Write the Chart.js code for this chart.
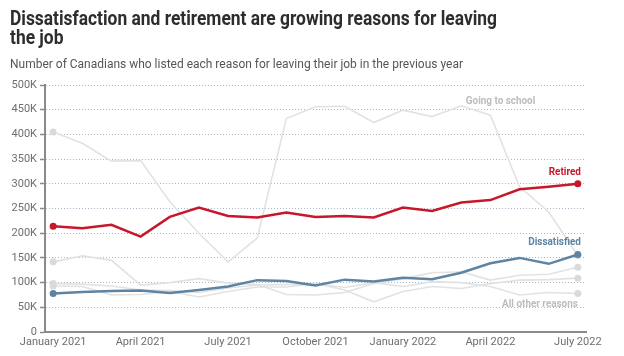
<!DOCTYPE html>
<html><head><meta charset="utf-8">
<script src="https://cdn.jsdelivr.net/npm/chart.js@4.4.1/dist/chart.umd.min.js"></script>
<style>
html,body{margin:0;padding:0;background:#fff;width:624px;height:356px;overflow:hidden;}
#wrap{position:relative;width:624px;height:356px;}
canvas{position:absolute;left:0;top:0;}
.t{position:absolute;left:10px;white-space:nowrap;transform-origin:0 0;font-family:Roboto,"Noto Sans",sans-serif;}
#t1,#t2{font-weight:bold;font-size:20px;line-height:20px;color:#2d2d2d;}
#t1{top:8px}#t2{top:27px}
#sub{font-size:12px;line-height:12px;top:58px;color:#555;}
</style></head>
<body><div id="wrap"><canvas id="c" width="624" height="356"></canvas>
<div class="t" id="t1">Dissatisfaction and retirement are growing reasons for leaving</div>
<div class="t" id="t2">the job</div>
<div class="t" id="sub">Number of Canadians who listed each reason for leaving their job in the previous year</div>
</div>
<script>
// ---- data (thousands of people) ----
const months = ['January 2021','February 2021','March 2021','April 2021','May 2021','June 2021','July 2021','August 2021','September 2021','October 2021','November 2021','December 2021','January 2022','February 2022','March 2022','April 2022','May 2022','June 2022','July 2022'];
const tickMonths = [0,3,6,9,12,15,18];
const yTicks = [0,50,100,150,200,250,300,350,400,450,500];
const retired      = [214,210,217,193,233,252,235,232,242,233,235,232,252,245,262,267,289,294,300];
const dissatisfied = [78,81,83,84,79,85,92,105,103,94,106,102,110,107,120,139,150,138,157];
const goingToSchool= [405,382,346,347,264,200,142,190,432,456,457,424,449,436,458,439,294,243,155];
const otherA       = [142,154,145,95,100,108,99,96,76,75,80,98,108,120,122,105,115,117,131];
const otherB       = [98,97,93,85,84,80,89,95,96,98,85,61,82,92,88,98,105,106,109];
const otherC       = [93,92,75,76,82,71,82,91,91,98,90,100,92,102,100,92,75,80,78];

const RED='#c8162a', BLUE='#5d84a3', GREY='#e2e2e2', GREYPT='#dadada', LGREY='#bdbdbd';
const FONT='Roboto, "Noto Sans", sans-serif';

function pts(arr){ return arr.map((v,i)=>({x:i,y:v*1000})); }
const last = months.length-1;
function endPts(r){ return ctx => (ctx.dataIndex===0||ctx.dataIndex===last)?r:0; }
function ds(label,arr,color,ptColor,w){
  return {label, data:pts(arr), borderColor:color, borderWidth:w, backgroundColor:ptColor,
    pointBackgroundColor:ptColor, pointBorderWidth:0, pointRadius:endPts(3.5), pointHoverRadius:0,
    tension:0, fill:false};
}

const labelPlugin = {
  id:'lbl',
  afterDatasetsDraw(chart){
    const {ctx, scales:{x,y}} = chart;
    const items = [
      {text:'Going to school', color:LGREY, align:'center', xv:15.35, px:0, py:y.getPixelForValue(goingToSchool[14]*1000)-4},
      {text:'Retired', color:RED, align:'right', xv:last, px:3, py:y.getPixelForValue(retired[last]*1000)-12},
      {text:'Dissatisfied', color:BLUE, align:'right', xv:last, px:3, py:y.getPixelForValue(dissatisfied[last]*1000)-12},
      {text:'All other reasons', color:LGREY, align:'right', xv:last, px:0, py:y.getPixelForValue(otherC[last]*1000)+11}
    ];
    ctx.save();
    ctx.font = 'bold 11px '+FONT;
    ctx.textBaseline='middle';
    items.forEach(it=>{
      const xp = x.getPixelForValue(it.xv)+it.px;
      const w = ctx.measureText(it.text).width;
      const s = 0.9;
      ctx.save();
      ctx.translate(xp, it.py);
      ctx.scale(s,1);
      ctx.fillStyle = it.color;
      ctx.textAlign = it.align;
      ctx.fillText(it.text, 0, 0);
      ctx.restore();
    });
    ctx.restore();
  }
};

function build(){
  const el = document.getElementById('c');
  new Chart(el, {
    type:'line',
    data:{datasets:[
      ds('Retired', retired, RED, RED, 2.5),
      ds('Dissatisfied', dissatisfied, BLUE, BLUE, 2.5),
      ds('Going to school', goingToSchool, GREY, GREYPT, 1.6),
      ds('Other A', otherA, GREY, GREYPT, 1.6),
      ds('Other B', otherB, GREY, GREYPT, 1.6),
      ds('Other C', otherC, GREY, GREYPT, 1.6)
    ]},
    options:{
      responsive:false, animation:false, devicePixelRatio:1,
      events:[],
      layout:{padding:{top:85,right:38,left:0,bottom:0}},
      plugins:{legend:{display:false}, tooltip:{enabled:false}, title:{display:false}},
      scales:{
        x:{type:'linear', min:-0.28, max:last+0.28,
          afterBuildTicks: s=>{ s.ticks = tickMonths.map(v=>({value:v})); },
          afterFit: s=>{ s.height = 24; },
          ticks:{callback:v=>months[v], font:{family:FONT,size:11}, color:'#6e6e6e', padding:4, maxRotation:0, autoSkip:false},
          grid:{display:false, drawTicks:false},
          border:{display:true, color:'#8a8a8a', width:2}
        },
        y:{min:0, max:500000,
          afterBuildTicks: s=>{ s.ticks = yTicks.map(v=>({value:v*1000})); },
          afterFit: s=>{ s.width = 45; },
          ticks:{callback:v=> v===0?'0':(v/1000)+'K', font:{family:FONT,size:11}, color:'#6e6e6e', padding:3},
          grid:{color:c=> (c.tick && c.tick.value===0)?'rgba(0,0,0,0)':'#a8b8c6', lineWidth:1, drawTicks:true, tickLength:5, tickColor:'#8a8a8a', tickWidth:1.5, tickBorderDash:[]},
          border:{display:true, color:'#8a8a8a', width:2, dash:[1,2]}
        }
      }
    },
    plugins:[labelPlugin]
  });
}

function fitText(){
  const t1=document.getElementById('t1'), t2=document.getElementById('t2'), sb=document.getElementById('sub');
  const s1 = 487 / t1.getBoundingClientRect().width;
  t1.style.transform = t2.style.transform = 'scaleX('+s1+')';
  const s2 = 453 / sb.getBoundingClientRect().width;
  sb.style.transform = 'scaleX('+s2+')';
}
const go = ()=>{ fitText(); build(); };
if (document.fonts && document.fonts.ready) document.fonts.ready.then(go); else go();
</script>
</body></html>
